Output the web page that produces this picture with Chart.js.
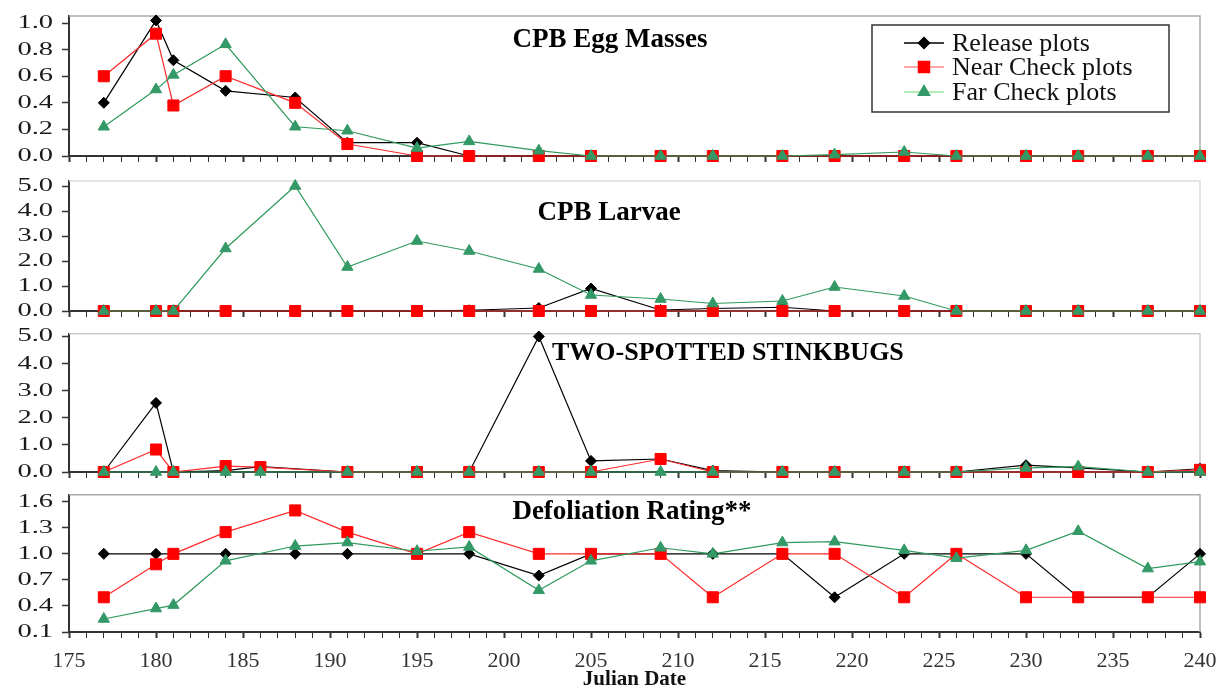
<!DOCTYPE html>
<html>
<head>
<meta charset="utf-8">
<script src="https://cdn.jsdelivr.net/npm/chart.js@4.4.1/dist/chart.umd.min.js"></script>
<style>
html, body { margin: 0; padding: 0; background: #fff; }
#wrap { position: relative; width: 1217px; height: 689px; overflow: hidden; }
canvas { position: absolute; left: 0; }
</style>
</head>
<body>
<div id="wrap">
  <canvas id="egg" width="1217" height="170" style="top:0px"></canvas>
  <canvas id="larva" width="1217" height="155" style="top:170px"></canvas>
  <canvas id="bugs" width="1217" height="161" style="top:325px"></canvas>
  <canvas id="defol" width="1217" height="203" style="top:486px"></canvas>
</div>
<script>
var seriesNames = ['Release plots', 'Near Check plots', 'Far Check plots'];

// julian dates of the samples
var sampleDates = [177, 180, 181, 184, 188, 191, 195, 198, 202, 205, 209, 212, 216, 219, 223, 226, 230, 233, 237, 240];
var bugDates    = [177, 180, 181, 184, 186, 191, 195, 198, 202, 205, 209, 212, 216, 219, 223, 226, 230, 233, 237, 240];

// CPB egg masses
var eggRelease = [0.40, 1.02, 0.72, 0.49, 0.44, 0.10, 0.10, 0, 0, 0, 0, 0, 0, 0, 0, 0, 0, 0, 0, 0];
var eggNear    = [0.60, 0.92, 0.38, 0.60, 0.40, 0.09, 0, 0, 0, 0, 0, 0, 0, 0, 0, 0, 0, 0, 0, 0];
var eggFar     = [0.22, 0.50, 0.61, 0.84, 0.22, 0.19, 0.06, 0.11, 0.04, 0, 0, 0, 0, 0.01, 0.03, 0, 0, 0, 0, 0];

// CPB larvae
var larvaRelease = [0, 0, 0, 0, 0, 0, 0, 0.03, 0.12, 0.9, 0.04, 0.1, 0.15, 0, 0, 0, 0, 0, 0, 0];
var larvaNear    = [0, 0, 0, 0, 0, 0, 0, 0, 0, 0, 0, 0, 0, 0, 0, 0, 0, 0, 0, 0];
var larvaFar     = [0, 0, 0, 2.5, 5.0, 1.76, 2.8, 2.4, 1.68, 0.64, 0.48, 0.3, 0.4, 0.96, 0.6, 0, 0, 0, 0, 0];

// two-spotted stinkbugs
var bugRelease = [0, 2.55, 0, 0.05, 0.2, 0, 0, 0, 5.0, 0.41, 0.48, 0.05, 0, 0, 0, 0, 0.25, 0.15, 0, 0.12];
var bugNear    = [0, 0.83, 0, 0.22, 0.18, 0, 0, 0, 0, 0, 0.48, 0, 0, 0, 0, 0, 0, 0, 0, 0.08];
var bugFar     = [0, 0, 0, 0, 0, 0, 0, 0, 0, 0, 0, 0, 0, 0, 0, 0, 0.15, 0.2, 0, 0];

// defoliation rating
var defolRelease = [1, 1, 1, 1, 1, 1, 1, 1, 0.75, 1, 1, 1, 1, 0.5, 1, 1, 1, 0.5, 0.5, 1];
var defolNear    = [0.5, 0.88, 1.0, 1.25, 1.5, 1.25, 1.0, 1.25, 1.0, 1.0, 1.0, 0.5, 1.0, 1.0, 0.5, 1.0, 0.5, 0.5, 0.5, 0.5];
var defolFar     = [0.25, 0.37, 0.41, 0.92, 1.09, 1.13, 1.03, 1.08, 0.58, 0.92, 1.07, 1.0, 1.13, 1.14, 1.04, 0.95, 1.04, 1.26, 0.83, 0.91];

// tick labels
var eggTicks   = [0, 0.2, 0.4, 0.6, 0.8, 1.0];
var larvaTicks = [0, 1, 2, 3, 4, 5];
var bugTicks   = [0, 1, 2, 3, 4, 5];
var defolTicks = [0.1, 0.4, 0.7, 1.0, 1.3, 1.6];

var serif = '"Liberation Serif", "DejaVu Serif", serif';
var styles = [
    { line: '#000000', fill: '#000000', point: 'rectRot', r: 5.5, order: 2 },
    { line: '#ff2a2a', fill: '#ff0000', point: 'rect', r: 7.8, order: 1 },
    { line: '#2f9a5c', fill: '#339966', point: 'triangle', r: 6.5, order: 0 }
];

var panelDecor = {
    id: 'panelDecor',
    beforeDatasetsDraw: function(chart, args, opts) {
        var a = chart.chartArea, ctx = chart.ctx;
        ctx.save();
        // light frame on top and right
        ctx.strokeStyle = opts.frameColor;
        ctx.lineWidth = 1.5;
        ctx.beginPath();
        ctx.moveTo(a.left, a.top);
        ctx.lineTo(a.right, a.top);
        ctx.lineTo(a.right, a.bottom);
        ctx.stroke();

        // y tick labels (stretched like the original)
        var ys = chart.scales.y;
        ctx.fillStyle = '#1a1a1a';
        ctx.font = '19px ' + serif;
        ctx.textAlign = 'right';
        ctx.textBaseline = 'middle';
        ys.ticks.forEach(function(t) {
            var py = ys.getPixelForValue(t.value);
            ctx.save();
            ctx.translate(53, py);
            ctx.scale(1.5, 1);
            ctx.fillText(t.value.toFixed(1), 0, 0);
            ctx.restore();
        });

        // panel title
        ctx.fillStyle = '#000';
        ctx.font = 'bold ' + opts.titleSize + 'px ' + serif;
        ctx.textAlign = opts.titleAlign;
        ctx.fillText(opts.title, opts.titleX, opts.titleY);
        ctx.restore();
    },
    afterDraw: function(chart, args, opts) {
        if (!opts.legend) return;
        var ctx = chart.ctx;
        ctx.save();
        ctx.fillStyle = '#fff';
        ctx.fillRect(872, 25, 297, 87);
        ctx.strokeStyle = '#333';
        ctx.lineWidth = 1.5;
        ctx.strokeRect(872, 25, 297, 87);
        var rows = [43, 67, 92];
        var sampleLine = ['#000000', '#ff8c8c', '#9be39b'];
        for (var i = 0; i < 3; i++) {
            ctx.strokeStyle = sampleLine[i];
            ctx.lineWidth = 1.5;
            ctx.beginPath();
            ctx.moveTo(904, rows[i]);
            ctx.lineTo(944, rows[i]);
            ctx.stroke();
            ctx.fillStyle = styles[i].fill;
            ctx.strokeStyle = styles[i].fill;
            Chart.helpers.drawPoint(ctx, { pointStyle: styles[i].point, radius: styles[i].r, rotation: 0, borderWidth: 1 }, 924, rows[i]);
            ctx.fillStyle = '#111';
            ctx.font = '26px ' + serif;
            ctx.textAlign = 'left';
            ctx.textBaseline = 'middle';
            ctx.fillText(seriesNames[i], 952, rows[i] + 1);
        }
        ctx.restore();
    }
};

function makePanel(id, dates, values, yMin, yMax, yTicks, padTop, bottom, decor) {
    var datasets = values.map(function(vals, k) {
        var s = styles[k];
        return {
            label: seriesNames[k],
            data: dates.map(function(d, i) { return { x: d, y: vals[i] }; }),
            borderColor: s.line,
            backgroundColor: s.fill,
            pointBackgroundColor: s.fill,
            pointBorderColor: s.fill,
            borderWidth: 1.2,
            pointStyle: s.point,
            pointRadius: s.r,
            pointBorderWidth: 1,
            tension: 0,
            clip: false,
            order: s.order
        };
    });

    return new Chart(document.getElementById(id), {
        type: 'line',
        data: { datasets: datasets },
        options: {
            responsive: false,
            animation: false,
            layout: { padding: { top: padTop, right: 17, left: 0, bottom: 0 } },
            plugins: {
                legend: { display: false },
                tooltip: { enabled: false },
                panelDecor: decor
            },
            scales: {
                x: {
                    type: 'linear',
                    min: 175,
                    max: 240,
                    afterFit: function(s) {
                        s.height = bottom ? 57 : 14;
                        // keep the plot edges where the other panels have them
                        s.paddingLeft = 0;
                        s.paddingRight = 0;
                    },
                    ticks: {
                        display: bottom,
                        stepSize: 1,
                        autoSkip: false,
                        maxRotation: 0,
                        padding: 10,
                        color: '#333',
                        font: { family: serif, size: 22 },
                        callback: function(v) { return v % 5 === 0 ? String(v) : ''; }
                    },
                    grid: {
                        drawOnChartArea: false,
                        tickLength: 6,
                        tickColor: '#333',
                        tickWidth: function(c) { return c.tick && c.tick.value % 5 === 0 ? 2 : 1; }
                    },
                    border: { color: '#333', width: 2 },
                    title: {
                        display: bottom,
                        text: 'Julian Date',
                        color: '#111',
                        font: { family: serif, size: 21, weight: 'bold', lineHeight: 1 },
                        padding: { top: 0, bottom: -1 }
                    }
                },
                y: {
                    min: yMin,
                    max: yMax,
                    afterBuildTicks: function(s) {
                        s.ticks = yTicks.map(function(v) { return { value: v }; });
                    },
                    afterFit: function(s) { s.width = 69; },
                    ticks: { display: false },
                    grid: { drawOnChartArea: false, tickLength: 7, tickColor: '#333', tickWidth: 1.5 },
                    border: { color: '#333', width: 2 }
                }
            }
        },
        plugins: [panelDecor]
    });
}

makePanel('egg', sampleDates, [eggRelease, eggNear, eggFar], 0, 1.053, eggTicks, 16, false,
    { title: 'CPB Egg Masses', titleSize: 27, titleAlign: 'center', titleX: 610, titleY: 40, frameColor: '#aaaaaa', legend: true });
makePanel('larva', sampleDates, [larvaRelease, larvaNear, larvaFar], 0, 5.2, larvaTicks, 11, false,
    { title: 'CPB Larvae', titleSize: 27, titleAlign: 'center', titleX: 609, titleY: 43, frameColor: '#dddddd', legend: false });
makePanel('bugs', bugDates, [bugRelease, bugNear, bugFar], 0, 5.1, bugTicks, 8, false,
    { title: 'TWO-SPOTTED STINKBUGS', titleSize: 26, titleAlign: 'left', titleX: 552, titleY: 28, frameColor: '#cccccc', legend: false });
makePanel('defol', sampleDates, [defolRelease, defolNear, defolFar], 0.1, 1.68, defolTicks, 6, true,
    { title: 'Defoliation Rating**', titleSize: 27, titleAlign: 'center', titleX: 632, titleY: 26, frameColor: '#aaaaaa', legend: false });
</script>
</body>
</html>
